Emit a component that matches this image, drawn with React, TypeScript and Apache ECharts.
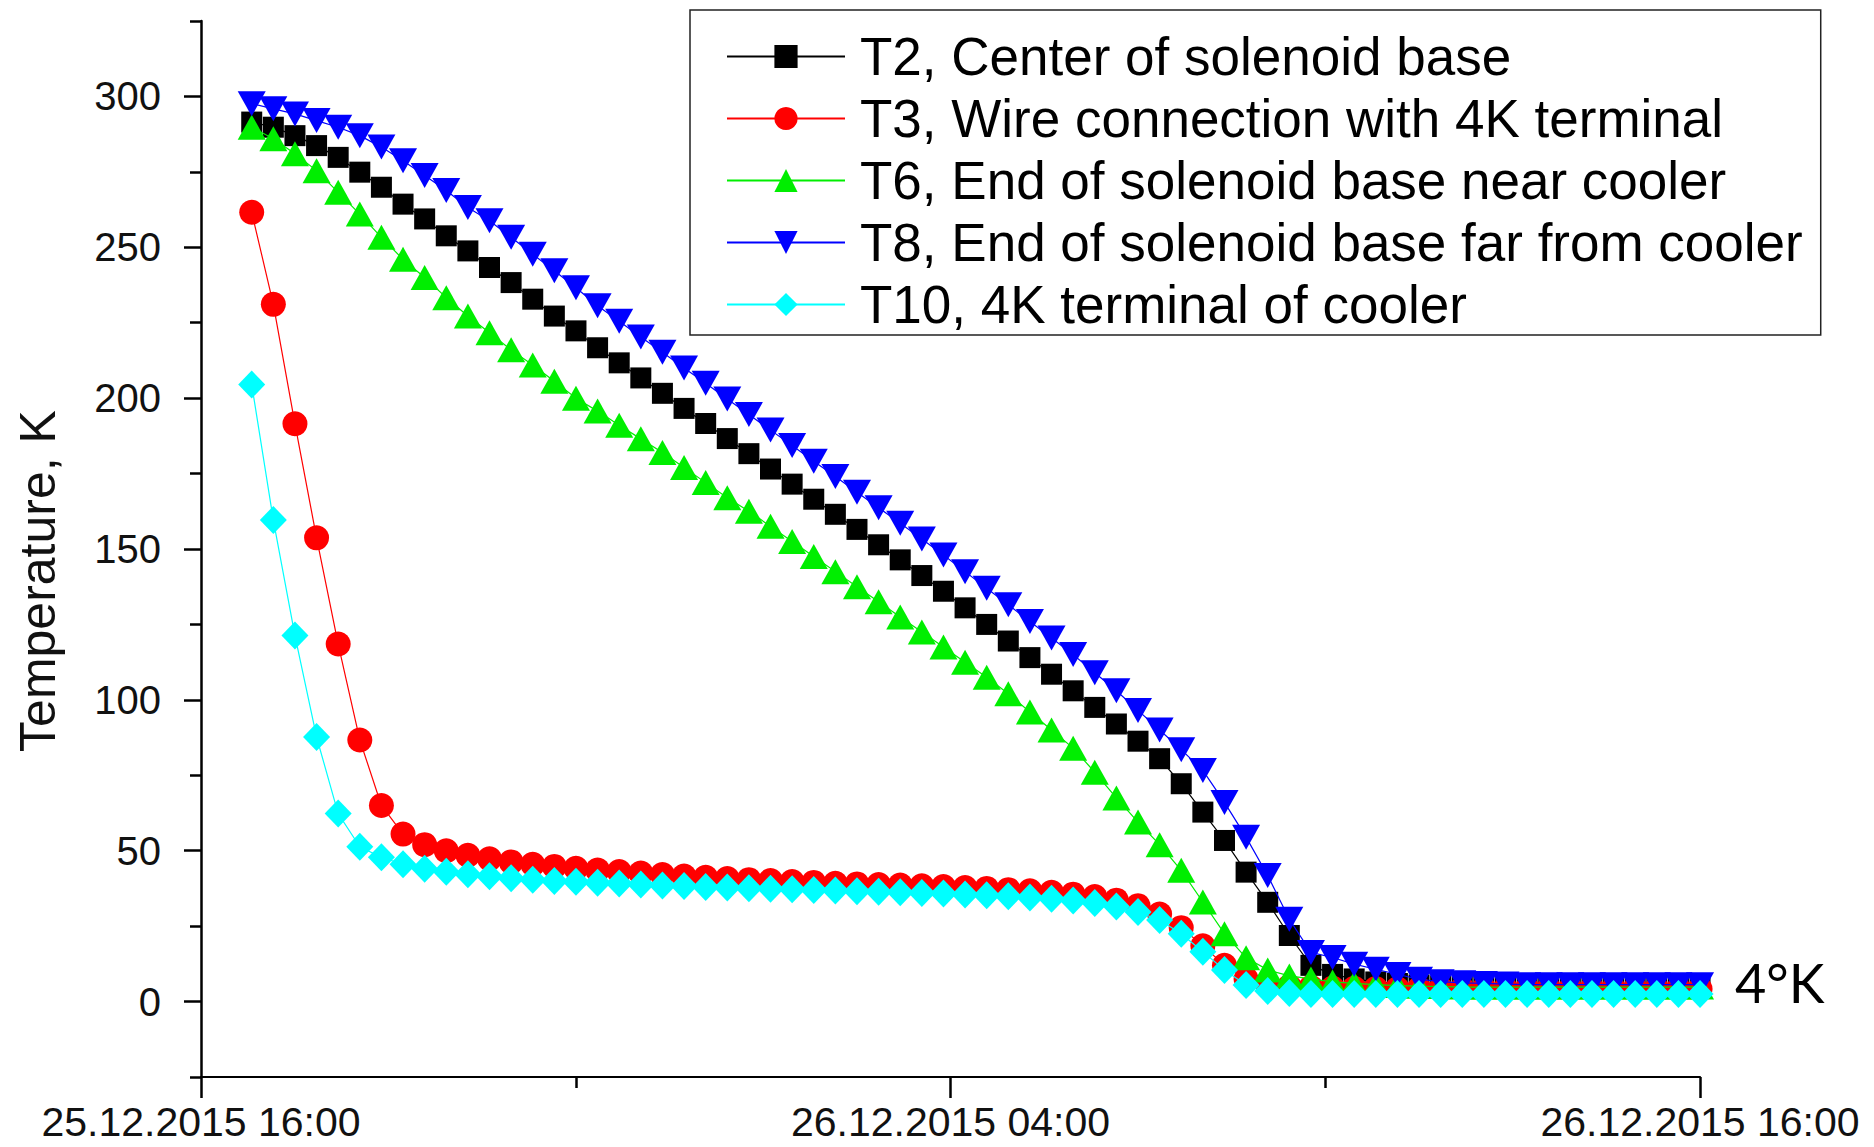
import React, { useEffect, useRef } from "react";
import * as echarts from "echarts";

// Sampling: first sample ~16:49 on 25.12.2015, then roughly every 20.8 minutes.
// Time is expressed in hours after 25.12.2015 16:00.
const T0_HOURS = 0.812;
const STEP_HOURS = 0.3461;

const SERIES_NAMES = [
  "T2, Center of solenoid base",
  "T3, Wire connection with 4K terminal",
  "T6, End of solenoid base near cooler",
  "T8, End of solenoid base far from cooler",
  "T10, 4K terminal of cooler",
];

const T2 = [
  291.5, 289.8, 287, 283.7, 279.8, 274.9, 269.9, 264.3, 259.4, 253.8,
  248.8, 243.3, 238.3, 232.8, 227.2, 222.3, 216.7, 211.7, 206.7, 201.6,
  196.6, 191.6, 186.6, 181.6, 176.5, 171.5, 166.5, 161.5, 156.5, 151.4,
  146.4, 141.2, 136, 130.5, 125, 119.5, 114, 108.5, 103, 97.5,
  92, 86.3, 80.5, 72.2, 62.8, 53.4, 42.9, 32.9, 21.9, 12,
  9, 7.5, 6.5, 6, 5.5, 5.2, 5, 4.9, 4.8, 4.7,
  4.6, 4.6, 4.5, 4.5, 4.5, 4.4, 4.4, 4.4,
];

const T3 = [
  261.6, 231.1, 191.5, 153.7, 118.5, 86.7, 65, 55.5, 52, 50,
  48.5, 47.3, 46.3, 45.5, 44.8, 44.2, 43.6, 43.1, 42.6, 42.1,
  41.6, 41.2, 40.8, 40.4, 40.1, 39.8, 39.5, 39.2, 39, 38.8,
  38.6, 38.4, 38.1, 37.8, 37.5, 37.1, 36.7, 36.2, 35.6, 34.8,
  33.6, 31.8, 29, 24.5, 18.5, 12, 7.5, 5.5, 5, 4.7,
  4.5, 4.4, 4.3, 4.2, 4.2, 4.2, 4.2, 4.2, 4.2, 4.2,
  4.2, 4.2, 4.2, 4.2, 4.2, 4.2, 4.2, 4.2,
];

const T6 = [
  289.8, 286, 281, 275.4, 268.2, 261, 253.3, 246, 240, 233.3,
  227.2, 221.7, 216, 211, 205.6, 200, 195.7, 191, 186.5, 182,
  177, 172, 167, 162.5, 157.5, 152.5, 147.5, 142.5, 137.5, 132.5,
  127.5, 122.5, 117.5, 112.5, 107.5, 102, 96, 90, 84, 76,
  67.5, 59.5, 52, 43.5, 33, 22.5, 14.5, 10.5, 8.5, 7.5,
  6.5, 6, 5.6, 5.3, 5.1, 5, 4.8, 4.8, 4.8, 4.8,
  4.8, 4.8, 4.8, 4.8, 4.8, 4.8, 4.8, 4.8,
];

const T8 = [
  297.6, 295.9, 294.2, 292, 289.8, 287, 283.2, 278.7, 273.8, 268.8,
  263.2, 258.8, 253.3, 247.7, 242.2, 236.6, 230.6, 225.5, 220.3, 215.2,
  210, 204.9, 199.7, 194.6, 189.4, 184.3, 179.1, 174, 168.8, 163.7,
  158.5, 153.3, 148, 142.5, 137, 131.5, 126, 120.5, 115, 109,
  103, 96.5, 90, 83.5, 76.6, 66, 54.5, 41.8, 27.3, 16.3,
  14.6, 12.4, 10.7, 9, 7.4, 6.6, 6.2, 6, 5.8, 5.6,
  5.6, 5.6, 5.6, 5.6, 5.6, 5.6, 5.6, 5.6,
];

const T10 = [
  204.5, 159.6, 121.3, 87.7, 62.3, 51.3, 47.8, 45.5, 44, 43,
  42.2, 41.5, 40.9, 40.4, 40, 39.7, 39.4, 39.1, 38.8, 38.5,
  38.3, 38, 37.8, 37.6, 37.4, 37.2, 37, 36.8, 36.6, 36.4,
  36.2, 36, 35.8, 35.5, 35.2, 34.9, 34.5, 34.1, 33.5, 32.7,
  31.5, 29.7, 27, 22.5, 16.5, 10.5, 5.5, 3.5, 2.8, 2.5,
  2.5, 2.5, 2.5, 2.5, 2.5, 2.5, 2.5, 2.5, 2.5, 2.5,
  2.5, 2.5, 2.5, 2.5, 2.5, 2.5, 2.5, 2.5,
];

const X_MAJOR = [0, 12, 24];
const X_MINOR = [6, 18];
const X_LABELS = ["25.12.2015 16:00", "26.12.2015 04:00", "26.12.2015 16:00"];
const Y_MAJOR = [0, 50, 100, 150, 200, 250, 300];
const Y_MINOR = [-25, 25, 75, 125, 175, 225, 275, 325];

const COLORS = ["#000000", "#ff0000", "#00ee00", "#0000ff", "#00ffff"];
const FONT = "'Liberation Sans', Arial, Helvetica, sans-serif";

export default function App() {
  const ref = useRef<HTMLDivElement>(null);

  useEffect(() => {
    if (!ref.current) return;
    const chart = echarts.init(ref.current, undefined, { renderer: "svg" });

    const times = T2.map((_, i) => T0_HOURS + i * STEP_HOURS);
    const toData = (vals: number[]) => vals.map((v, i) => [times[i], v]);

    const symbols: any[] = [
      { symbol: "rect", symbolSize: 21, symbolRotate: 0 },
      { symbol: "circle", symbolSize: 25, symbolRotate: 0 },
      { symbol: "triangle", symbolSize: [28, 25], symbolRotate: 0 },
      { symbol: "triangle", symbolSize: [28, 25], symbolRotate: 180 },
      { symbol: "diamond", symbolSize: [27, 28], symbolRotate: 0 },
    ];
    const allVals = [T2, T3, T6, T8, T10];

    const series = allVals.map((vals, k) => ({
      name: SERIES_NAMES[k],
      type: "line",
      xAxisIndex: 0,
      yAxisIndex: 0,
      data: toData(vals),
      symbol: symbols[k].symbol,
      symbolSize: symbols[k].symbolSize,
      symbolRotate: symbols[k].symbolRotate,
      showSymbol: true,
      itemStyle: { color: COLORS[k], opacity: 1 },
      lineStyle: { color: COLORS[k], width: 1.2 },
      emphasis: { disabled: true },
      z: 2 + k,
    }));

    const tickStyle = { color: "#000", width: 2.5 };

    chart.setOption({
      animation: false,
      backgroundColor: "#ffffff",
      grid: { left: 201, right: 174, top: 21, bottom: 70, containLabel: false },
      xAxis: [
        {
          type: "value",
          min: 0,
          max: 24,
          position: "bottom",
          axisLine: { show: true, onZero: false, lineStyle: { color: "#000", width: 2.2 } },
          axisTick: { show: true, customValues: X_MAJOR, length: 21, lineStyle: tickStyle },
          axisLabel: {
            show: true,
            customValues: X_MAJOR,
            formatter: (v: number) => {
              const idx = X_MAJOR.indexOf(Math.round(v));
              return idx >= 0 ? X_LABELS[idx] : "";
            },
            margin: 24,
            lineHeight: 41,
            fontFamily: FONT,
            fontSize: 41,
            color: "#111",
          },
          splitLine: { show: false },
        },
        {
          type: "value",
          min: 0,
          max: 24,
          position: "bottom",
          axisLine: { show: false, onZero: false },
          axisTick: { show: true, customValues: X_MINOR, length: 11, lineStyle: tickStyle },
          axisLabel: { show: false },
          splitLine: { show: false },
        },
      ],
      yAxis: [
        {
          type: "value",
          min: -25,
          max: 325,
          position: "left",
          axisLine: { show: true, onZero: false, lineStyle: { color: "#000", width: 2.5 } },
          axisTick: { show: true, customValues: Y_MAJOR, length: 17, lineStyle: tickStyle },
          axisLabel: {
            show: true,
            customValues: Y_MAJOR,
            margin: 40,
            fontFamily: FONT,
            fontSize: 40,
            color: "#111",
          },
          splitLine: { show: false },
        },
        {
          type: "value",
          min: -25,
          max: 325,
          position: "left",
          axisLine: { show: false, onZero: false },
          axisTick: { show: true, customValues: Y_MINOR, length: 11, lineStyle: tickStyle },
          axisLabel: { show: false },
          splitLine: { show: false },
        },
      ],
      legend: {
        show: true,
        orient: "vertical",
        left: 690,
        top: 10,
        padding: [20, 18, 4, 36],
        itemWidth: 118,
        itemHeight: 29,
        itemGap: 9,
        borderColor: "#222",
        borderWidth: 1.5,
        backgroundColor: "#fff",
        selectedMode: false,
        textStyle: {
          fontFamily: FONT,
          fontSize: 53,
          color: "#000",
          padding: [0, 0, 0, 10],
        },
        data: SERIES_NAMES,
      },
      graphic: [
        {
          type: "text",
          x: 38,
          y: 581,
          rotation: Math.PI / 2,
          style: {
            text: "Temperature, K",
            font: `50px ${FONT}`,
            fill: "#111",
            textAlign: "center",
            textVerticalAlign: "middle",
          },
        },
        {
          type: "text",
          x: 1735,
          y: 982,
          style: {
            text: "4°K",
            font: "54px Lato, 'Open Sans', sans-serif",
            fill: "#000",
            textAlign: "left",
            textVerticalAlign: "middle",
          },
        },
      ],
      series,
    });

    return () => chart.dispose();
  }, []);

  return (
    <div
      ref={ref}
      style={{ position: "fixed", left: 0, top: 0, width: 1874, height: 1147, background: "#fff" }}
    />
  );
}
